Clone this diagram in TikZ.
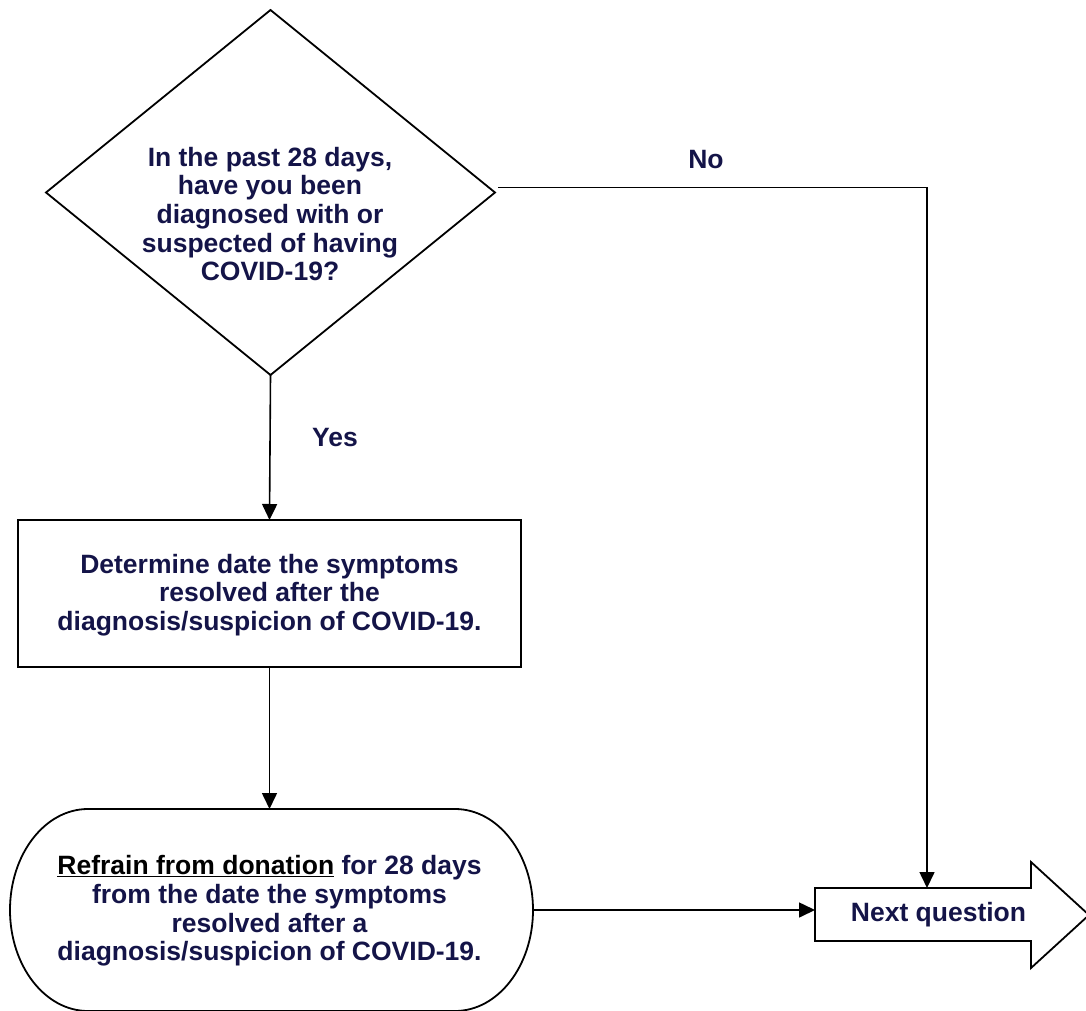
\documentclass[tikz,border=0pt]{standalone}
\usepackage{fontspec}
\setmainfont{Liberation Sans}
\usetikzlibrary{shapes.geometric,arrows.meta}
\definecolor{navy}{RGB}{20,20,72}
\begin{document}
\begin{tikzpicture}[x=1pt,y=-1pt,
  txt/.style={text=navy, font=\fontsize{26.5}{28.6}\selectfont\bfseries, align=center, inner sep=0pt},
  shapeline/.style={draw=black, line width=1.8pt},
  flow/.style={draw=black, line width=1.6pt, -{Triangle[length=16pt,width=15pt]}}]
\useasboundingbox (0,0) rectangle (1086,1011);
% decision
\node[diamond, shapeline, minimum width=449pt, minimum height=365pt, inner sep=0pt, outer sep=0pt] (q) at (270.5,192.5) {};
\node[txt] (qt) at (270,214) {In the past 28 days,\\have you been\\diagnosed with or\\suspected of having\\COVID-19?};
% process box
\node[shapeline, rectangle, minimum width=503pt, minimum height=147pt, inner sep=0pt, outer sep=0pt] (b) at (269.5,593.5) {};
\node[txt] (bt) at (269.5,595) {Determine date the symptoms\\resolved after the\\diagnosis/suspicion of COVID-19.};
% terminal
\draw[shapeline] (88,809) -- (455,809) .. controls (498.1,809) and (533,854.2) .. (533,910)
  .. controls (533,965.8) and (498.1,1011) .. (455,1011) -- (88,1011)
  .. controls (44.9,1011) and (10,965.8) .. (10,910)
  .. controls (10,854.2) and (44.9,809) .. (88,809) -- cycle;
\node[minimum width=523pt, minimum height=202pt, inner sep=0pt, outer sep=0pt] (term) at (271.5,910) {};
\node[txt] (termtext) at (269.5,911) {{\color{black}\underline{Refrain from donation}} for 28 days\\from the date the symptoms\\resolved after a\\diagnosis/suspicion of COVID-19.};
% next question arrow
\draw[shapeline, line join=miter] (815,888) -- (1031,888) -- (1031,862) -- (1089,915) -- (1031,968) -- (1031,941) -- (815,941) -- cycle;
\node[minimum width=216pt, minimum height=53pt, inner sep=0pt, outer sep=0pt] (nx) at (923,914.5) {};
\node[txt] (nxt) at (938.5,914.5) {Next question};
\coordinate (nxin) at (927,888);
% connectors
\draw[flow] (q.south) -- (b.north);
\draw[flow] (b.south) -- (b.south |- term.north);
\draw[flow] (term.east) -- (term.east -| nx.west);
\draw[flow] ([shift={(3,-5)}]q.east) -| (nxin);
% labels
\node[txt] (yes) at (335,438) {Yes};
\node[txt] (no) at (706,160) {No};
\end{tikzpicture}
\end{document}
